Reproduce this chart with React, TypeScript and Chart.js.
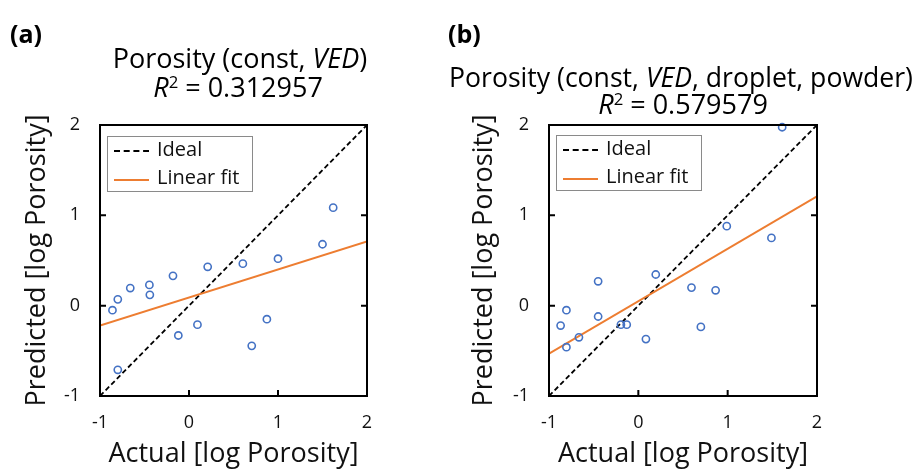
import React, { useEffect, useRef } from 'react';
import { Chart, registerables } from 'chart.js';

Chart.register(...registerables);

const FONT = '"Open Sans", Lato, sans-serif';
const TEXT = '#111';
const BLUE = '#4472C4';
const ORANGE = '#ED7D31';

// Panel (a): Porosity (const, VED)
const actualA = [-0.86, -0.8, -0.66, -0.445, -0.44, -0.18, 0.21, -0.12, 0.095, -0.8, 0.605, 0.705, 0.875, 1.0, 1.5, 1.62];
const predictedA = [-0.05, 0.07, 0.195, 0.23, 0.12, 0.33, 0.43, -0.33, -0.21, -0.71, 0.465, -0.445, -0.15, 0.52, 0.68, 1.085];

// Panel (b): Porosity (const, VED, droplet, powder)
const actualB = [-0.87, -0.805, -0.805, -0.665, -0.45, -0.45, -0.195, -0.13, 0.085, 0.195, 0.595, 0.7, 0.865, 0.99, 1.49, 1.61];
const predictedB = [-0.22, -0.05, -0.46, -0.35, 0.27, -0.12, -0.21, -0.21, -0.37, 0.345, 0.2, -0.235, 0.17, 0.88, 0.75, 1.975];

// Ideal (y = x) and linear fit endpoints
const idealX = [-1, 2];
const idealY = [-1, 2];
const fitAX = [-1, 2];
const fitAY = [-0.22, 0.71];
const fitBX = [-1, 2];
const fitBY = [-0.53, 1.21];

const axisMin = -1;
const axisMax = 2;
const axisStep = 1;

const legendLabels = ['Ideal', 'Linear fit'];

const toPts = (xs: number[], ys: number[]) => xs.map((x, i) => ({ x, y: ys[i] }));

const framePlugin = {
  id: 'frame',
  afterDatasetsDraw(chart: any) {
    const { ctx, chartArea: a, scales } = chart;
    ctx.save();
    ctx.strokeStyle = '#000';
    ctx.lineWidth = 2;
    ctx.strokeRect(a.left, a.top, a.right - a.left, a.bottom - a.top);
    const L = 6;
    ctx.beginPath();
    scales.y.ticks.forEach((t: any) => {
      const py = scales.y.getPixelForValue(t.value);
      ctx.moveTo(a.left, py);
      ctx.lineTo(a.left + L, py);
      ctx.moveTo(a.right, py);
      ctx.lineTo(a.right - L, py);
    });
    scales.x.ticks.forEach((t: any) => {
      const px = scales.x.getPixelForValue(t.value);
      ctx.moveTo(px, a.bottom);
      ctx.lineTo(px, a.bottom - L);
    });
    ctx.stroke();
    ctx.restore();
  },
};

interface PanelProps {
  xs: number[];
  ys: number[];
  fitX: number[];
  fitY: number[];
  yAxisWidth: number;
  yTitlePad: number;
  rightPad: number;
}

function Panel({ xs, ys, fitX, fitY, yAxisWidth, yTitlePad, rightPad }: PanelProps) {
  const ref = useRef<HTMLCanvasElement | null>(null);
  useEffect(() => {
    if (!ref.current) return;
    const chart = new Chart(ref.current, {
      type: 'scatter',
      data: {
        datasets: [
          {
            label: 'Data',
            data: toPts(xs, ys),
            pointStyle: 'circle',
            pointRadius: 3.6,
            pointBorderWidth: 1.6,
            borderColor: BLUE,
            backgroundColor: 'rgba(255,255,255,0)',
            clip: false,
          } as any,
          {
            type: 'line',
            label: legendLabels[1],
            data: toPts(fitX, fitY),
            borderColor: ORANGE,
            borderWidth: 2,
            pointRadius: 0,
            fill: false,
          } as any,
          {
            type: 'line',
            label: legendLabels[0],
            data: toPts(idealX, idealY),
            borderColor: '#000',
            borderWidth: 1.8,
            borderDash: [5, 3],
            pointRadius: 0,
            fill: false,
          } as any,
        ],
      },
      options: {
        animation: false,
        responsive: false,
        layout: { padding: { left: 0, right: rightPad, top: 125, bottom: 0 } },
        plugins: { legend: { display: false }, tooltip: { enabled: false } },
        scales: {
          x: {
            type: 'linear',
            min: axisMin,
            max: axisMax,
            ticks: { stepSize: axisStep, padding: 16, color: TEXT, font: { family: FONT, size: 18 } },
            grid: { display: false, drawTicks: false },
            border: { display: false },
            title: {
              display: true,
              text: 'Actual [log Porosity]',
              color: TEXT,
              font: { family: FONT, size: 27 },
              padding: { top: 0, bottom: 2 },
            },
            afterFit: (s: any) => {
              s.height = 77;
            },
          },
          y: {
            type: 'linear',
            min: axisMin,
            max: axisMax,
            ticks: { stepSize: axisStep, padding: 20, color: TEXT, font: { family: FONT, size: 18 } },
            grid: { display: false, drawTicks: false },
            border: { display: false },
            title: {
              display: true,
              text: 'Predicted [log Porosity]',
              color: TEXT,
              font: { family: FONT, size: 27 },
              padding: { top: yTitlePad, bottom: 0 },
            },
            afterFit: (s: any) => {
              s.width = yAxisWidth;
            },
          },
        },
      } as any,
      plugins: [framePlugin],
    });
    return () => chart.destroy();
  }, []);
  return <canvas ref={ref} width={461} height={473} style={{ width: 461, height: 473, display: 'block' }} />;
}

const LEG_FONT = 20;

function Legend({ left, top }: { left: number; top: number }) {
  // positions relative to the box
  const rows = [
    { lineY: 15, base: 21, dashed: true, color: '#000', label: legendLabels[0] },
    { lineY: 44, base: 49, dashed: false, color: ORANGE, label: legendLabels[1] },
  ];
  return (
    <div
      style={{
        position: 'absolute',
        left,
        top,
        width: 146,
        height: 56,
        border: '1px solid #8a8a8a',
        boxSizing: 'border-box',
        background: '#fff',
        fontFamily: FONT,
        fontSize: LEG_FONT,
        color: TEXT,
      }}
    >
      <svg width={50} height={56} style={{ position: 'absolute', left: -1, top: -1 }}>
        {rows.map((r, i) => (
          <line
            key={i}
            x1={7}
            y1={r.lineY}
            x2={42}
            y2={r.lineY}
            stroke={r.color}
            strokeWidth={2}
            strokeDasharray={r.dashed ? '6 3.7' : undefined}
          />
        ))}
      </svg>
      {rows.map((r, i) => (
        <div
          key={i}
          style={{
            position: 'absolute',
            left: 49,
            top: r.base - 0.888 * LEG_FONT - 1,
            lineHeight: 1,
            whiteSpace: 'nowrap',
          }}
        >
          {r.label}
        </div>
      ))}
    </div>
  );
}

function TextLine({ center, baseline, size, children }: any) {
  const top = baseline - 0.888 * size;
  return (
    <div
      style={{
        position: 'absolute',
        left: center - 300,
        width: 600,
        top,
        textAlign: 'center',
        fontFamily: FONT,
        fontSize: size,
        lineHeight: 1,
        whiteSpace: 'nowrap',
        color: '#000',
      }}
    >
      {children}
    </div>
  );
}

function Label({ left, baseline, size, children }: any) {
  return (
    <div
      style={{
        position: 'absolute',
        left,
        top: baseline - 0.888 * size,
        fontFamily: FONT,
        fontSize: size,
        lineHeight: 1,
        fontWeight: 700,
        color: '#000',
        whiteSpace: 'nowrap',
      }}
    >
      {children}
    </div>
  );
}

const sup: React.CSSProperties = { fontSize: '0.62em', verticalAlign: '0.55em', lineHeight: 0 };

export default function App() {
  useEffect(() => {
    document.body.style.margin = '0';
    document.body.style.overflow = 'hidden';
  }, []);
  return (
    <div style={{ position: 'absolute', left: 0, top: 0, width: 922, height: 473, background: '#fff', overflow: 'hidden' }}>
      <div style={{ position: 'absolute', left: 0, top: 0 }}>
        <Panel xs={actualA} ys={predictedA} fitX={fitAX} fitY={fitAY} yAxisWidth={100} yTitlePad={21} rightPad={94} />
      </div>
      <div style={{ position: 'absolute', left: 461, top: 0 }}>
        <Panel xs={actualB} ys={predictedB} fitX={fitBX} fitY={fitBY} yAxisWidth={88} yTitlePad={7} rightPad={105} />
      </div>
      <Legend left={107} top={136} />
      <Legend left={556} top={135} />
      <Label left={10} baseline={43} size={25}>(a)</Label>
      <Label left={448} baseline={43} size={25}>(b)</Label>
      <TextLine center={240} baseline={68} size={27}>
        Porosity (const, <i>VED</i>)
      </TextLine>
      <TextLine center={238} baseline={97} size={27}>
        <i>R</i>
        <span style={sup}>2</span> = 0.312957
      </TextLine>
      <TextLine center={681} baseline={88} size={26.6}>
        Porosity (const, <i>VED</i>, droplet, powder)
      </TextLine>
      <TextLine center={683} baseline={114} size={27}>
        <i>R</i>
        <span style={sup}>2</span> = 0.579579
      </TextLine>
    </div>
  );
}
